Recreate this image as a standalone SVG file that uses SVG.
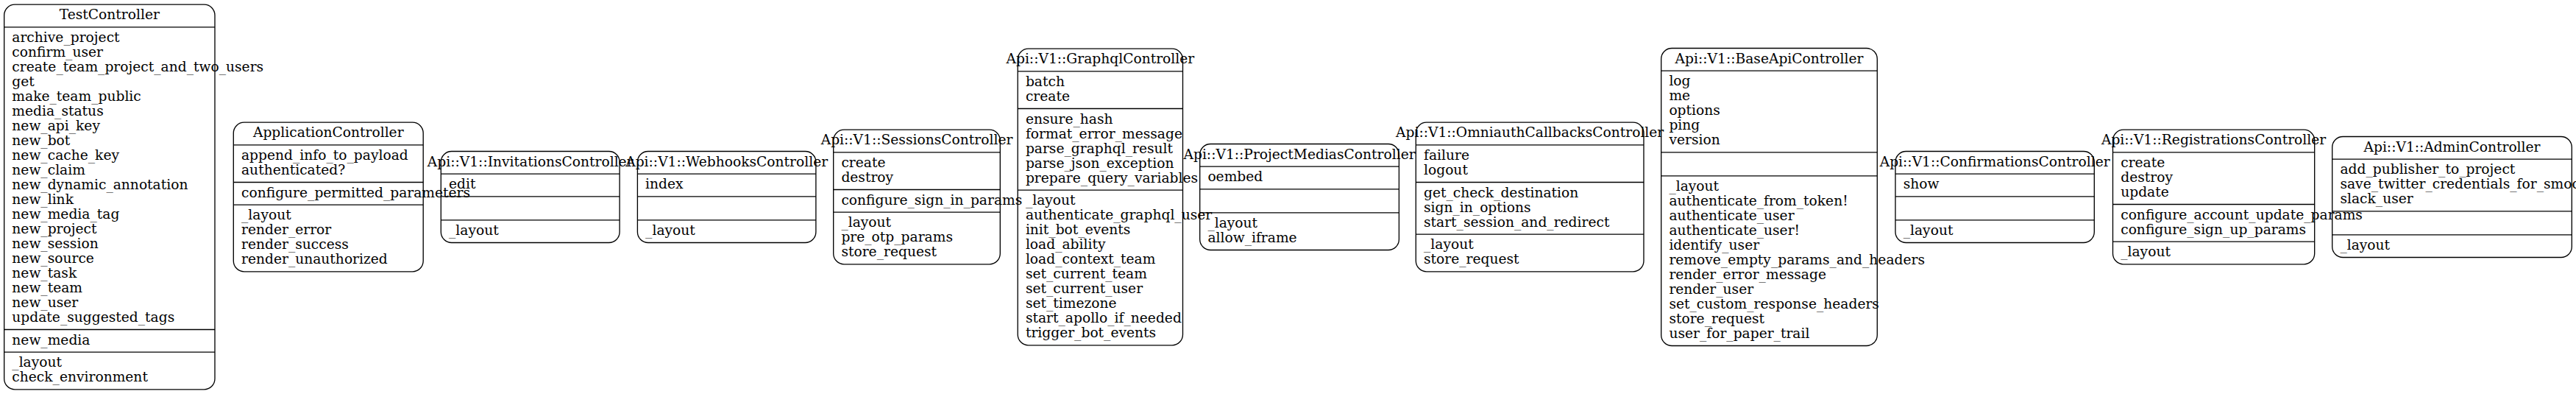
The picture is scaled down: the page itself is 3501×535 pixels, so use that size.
<svg xmlns="http://www.w3.org/2000/svg" width="3501" height="535" viewBox="0 0 3501 535">
<style>
.n rect,.n path{fill:none;stroke:#000;stroke-width:1.33}
text{font-family:"DejaVu Serif","Liberation Serif",serif;font-size:18.67px;fill:#000}
.t{text-anchor:middle}
</style>
<rect width="3501" height="535" fill="#fff"/>
<g id="edges"/>
<g id="TestController" class="n">
<rect x="5.67" y="6.17" width="286.33" height="522.67" rx="14.5"/>
<path d="M5.67 36.83H292M5.67 447.5H292M5.67 478.17H292"/>
<text class="t" x="148.83" y="26.37">TestController</text>
<text y="57.03"><tspan x="16.33">archive_project</tspan><tspan x="16.33" dy="20">confirm_user</tspan><tspan x="16.33" dy="20">create_team_project_and_two_users</tspan><tspan x="16.33" dy="20">get</tspan><tspan x="16.33" dy="20">make_team_public</tspan><tspan x="16.33" dy="20">media_status</tspan><tspan x="16.33" dy="20">new_api_key</tspan><tspan x="16.33" dy="20">new_bot</tspan><tspan x="16.33" dy="20">new_cache_key</tspan><tspan x="16.33" dy="20">new_claim</tspan><tspan x="16.33" dy="20">new_dynamic_annotation</tspan><tspan x="16.33" dy="20">new_link</tspan><tspan x="16.33" dy="20">new_media_tag</tspan><tspan x="16.33" dy="20">new_project</tspan><tspan x="16.33" dy="20">new_session</tspan><tspan x="16.33" dy="20">new_source</tspan><tspan x="16.33" dy="20">new_task</tspan><tspan x="16.33" dy="20">new_team</tspan><tspan x="16.33" dy="20">new_user</tspan><tspan x="16.33" dy="20">update_suggested_tags</tspan></text>
<text x="16.33" y="467.7">new_media</text>
<text y="498.37"><tspan x="16.33">_layout</tspan><tspan x="16.33" dy="20">check_environment</tspan></text>
</g>
<g id="ApplicationController" class="n">
<rect x="317.3" y="166.17" width="257.9" height="202.67" rx="14.5"/>
<path d="M317.3 196.83H575.2M317.3 247.5H575.2M317.3 278.17H575.2"/>
<text class="t" x="446.25" y="186.37">ApplicationController</text>
<text y="217.03"><tspan x="328">append_info_to_payload</tspan><tspan x="328" dy="20">authenticated?</tspan></text>
<text x="328" y="267.7">configure_permitted_parameters</text>
<text y="298.37"><tspan x="328">_layout</tspan><tspan x="328" dy="20">render_error</tspan><tspan x="328" dy="20">render_success</tspan><tspan x="328" dy="20">render_unauthorized</tspan></text>
</g>
<g id="InvitationsController" class="n">
<rect x="599.3" y="205.5" width="242.8" height="124" rx="14.5"/>
<path d="M599.3 236.17H842.1M599.3 266.83H842.1M599.3 298.83H842.1"/>
<text class="t" x="720.7" y="225.7">Api::V1::InvitationsController</text>
<text x="610" y="256.37">edit</text>
<text x="610" y="319.03">_layout</text>
</g>
<g id="WebhooksController" class="n">
<rect x="866.4" y="205.5" width="242.5" height="124" rx="14.5"/>
<path d="M866.4 236.17H1108.9M866.4 266.83H1108.9M866.4 298.83H1108.9"/>
<text class="t" x="987.65" y="225.7">Api::V1::WebhooksController</text>
<text x="877.1" y="256.37">index</text>
<text x="877.1" y="319.03">_layout</text>
</g>
<g id="SessionsController" class="n">
<rect x="1132.7" y="176.17" width="226.6" height="182.67" rx="14.5"/>
<path d="M1132.7 206.83H1359.3M1132.7 257.5H1359.3M1132.7 288.17H1359.3"/>
<text class="t" x="1246" y="196.37">Api::V1::SessionsController</text>
<text y="227.03"><tspan x="1143.4">create</tspan><tspan x="1143.4" dy="20">destroy</tspan></text>
<text x="1143.4" y="277.7">configure_sign_in_params</text>
<text y="308.37"><tspan x="1143.4">_layout</tspan><tspan x="1143.4" dy="20">pre_otp_params</tspan><tspan x="1143.4" dy="20">store_request</tspan></text>
</g>
<g id="GraphqlController" class="n">
<rect x="1383.2" y="66.17" width="224.3" height="402.67" rx="14.5"/>
<path d="M1383.2 96.83H1607.5M1383.2 147.5H1607.5M1383.2 258.17H1607.5"/>
<text class="t" x="1495.35" y="86.37">Api::V1::GraphqlController</text>
<text y="117.03"><tspan x="1393.9">batch</tspan><tspan x="1393.9" dy="20">create</tspan></text>
<text y="167.7"><tspan x="1393.9">ensure_hash</tspan><tspan x="1393.9" dy="20">format_error_message</tspan><tspan x="1393.9" dy="20">parse_graphql_result</tspan><tspan x="1393.9" dy="20">parse_json_exception</tspan><tspan x="1393.9" dy="20">prepare_query_variables</tspan></text>
<text y="278.37"><tspan x="1393.9">_layout</tspan><tspan x="1393.9" dy="20">authenticate_graphql_user</tspan><tspan x="1393.9" dy="20">init_bot_events</tspan><tspan x="1393.9" dy="20">load_ability</tspan><tspan x="1393.9" dy="20">load_context_team</tspan><tspan x="1393.9" dy="20">set_current_team</tspan><tspan x="1393.9" dy="20">set_current_user</tspan><tspan x="1393.9" dy="20">set_timezone</tspan><tspan x="1393.9" dy="20">start_apollo_if_needed</tspan><tspan x="1393.9" dy="20">trigger_bot_events</tspan></text>
</g>
<g id="ProjectMediasController" class="n">
<rect x="1630.7" y="195.5" width="270.7" height="144" rx="14.5"/>
<path d="M1630.7 226.17H1901.4M1630.7 256.83H1901.4M1630.7 288.83H1901.4"/>
<text class="t" x="1766.05" y="215.7">Api::V1::ProjectMediasController</text>
<text x="1641.4" y="246.37">oembed</text>
<text y="309.03"><tspan x="1641.4">_layout</tspan><tspan x="1641.4" dy="20">allow_iframe</tspan></text>
</g>
<g id="OmniauthCallbacksController" class="n">
<rect x="1924.3" y="166.17" width="309.7" height="202.67" rx="14.5"/>
<path d="M1924.3 196.83H2234M1924.3 247.5H2234M1924.3 318.17H2234"/>
<text class="t" x="2079.15" y="186.37">Api::V1::OmniauthCallbacksController</text>
<text y="217.03"><tspan x="1935">failure</tspan><tspan x="1935" dy="20">logout</tspan></text>
<text y="267.7"><tspan x="1935">get_check_destination</tspan><tspan x="1935" dy="20">sign_in_options</tspan><tspan x="1935" dy="20">start_session_and_redirect</tspan></text>
<text y="338.37"><tspan x="1935">_layout</tspan><tspan x="1935" dy="20">store_request</tspan></text>
</g>
<g id="BaseApiController" class="n">
<rect x="2257.7" y="65.5" width="293.6" height="404" rx="14.5"/>
<path d="M2257.7 96.17H2551.3M2257.7 206.83H2551.3M2257.7 238.83H2551.3"/>
<text class="t" x="2404.5" y="85.7">Api::V1::BaseApiController</text>
<text y="116.37"><tspan x="2268.4">log</tspan><tspan x="2268.4" dy="20">me</tspan><tspan x="2268.4" dy="20">options</tspan><tspan x="2268.4" dy="20">ping</tspan><tspan x="2268.4" dy="20">version</tspan></text>
<text y="259.03"><tspan x="2268.4">_layout</tspan><tspan x="2268.4" dy="20">authenticate_from_token!</tspan><tspan x="2268.4" dy="20">authenticate_user</tspan><tspan x="2268.4" dy="20">authenticate_user!</tspan><tspan x="2268.4" dy="20">identify_user</tspan><tspan x="2268.4" dy="20">remove_empty_params_and_headers</tspan><tspan x="2268.4" dy="20">render_error_message</tspan><tspan x="2268.4" dy="20">render_user</tspan><tspan x="2268.4" dy="20">set_custom_response_headers</tspan><tspan x="2268.4" dy="20">store_request</tspan><tspan x="2268.4" dy="20">user_for_paper_trail</tspan></text>
</g>
<g id="ConfirmationsController" class="n">
<rect x="2576" y="205.5" width="270.3" height="124" rx="14.5"/>
<path d="M2576 236.17H2846.3M2576 266.83H2846.3M2576 298.83H2846.3"/>
<text class="t" x="2711.15" y="225.7">Api::V1::ConfirmationsController</text>
<text x="2586.7" y="256.37">show</text>
<text x="2586.7" y="319.03">_layout</text>
</g>
<g id="RegistrationsController" class="n">
<rect x="2871.5" y="176.17" width="274.2" height="182.67" rx="14.5"/>
<path d="M2871.5 206.83H3145.7M2871.5 277.5H3145.7M2871.5 328.17H3145.7"/>
<text class="t" x="3008.6" y="196.37">Api::V1::RegistrationsController</text>
<text y="227.03"><tspan x="2882.2">create</tspan><tspan x="2882.2" dy="20">destroy</tspan><tspan x="2882.2" dy="20">update</tspan></text>
<text y="297.7"><tspan x="2882.2">configure_account_update_params</tspan><tspan x="2882.2" dy="20">configure_sign_up_params</tspan></text>
<text x="2882.2" y="348.37">_layout</text>
</g>
<g id="AdminController" class="n">
<rect x="3169.7" y="185.5" width="325.6" height="164" rx="14.5"/>
<path d="M3169.7 216.17H3495.3M3169.7 286.83H3495.3M3169.7 318.83H3495.3"/>
<text class="t" x="3332.5" y="205.7">Api::V1::AdminController</text>
<text y="236.37"><tspan x="3180.4">add_publisher_to_project</tspan><tspan x="3180.4" dy="20">save_twitter_credentials_for_smooch_bot</tspan><tspan x="3180.4" dy="20">slack_user</tspan></text>
<text x="3180.4" y="339.03">_layout</text>
</g>
</svg>
